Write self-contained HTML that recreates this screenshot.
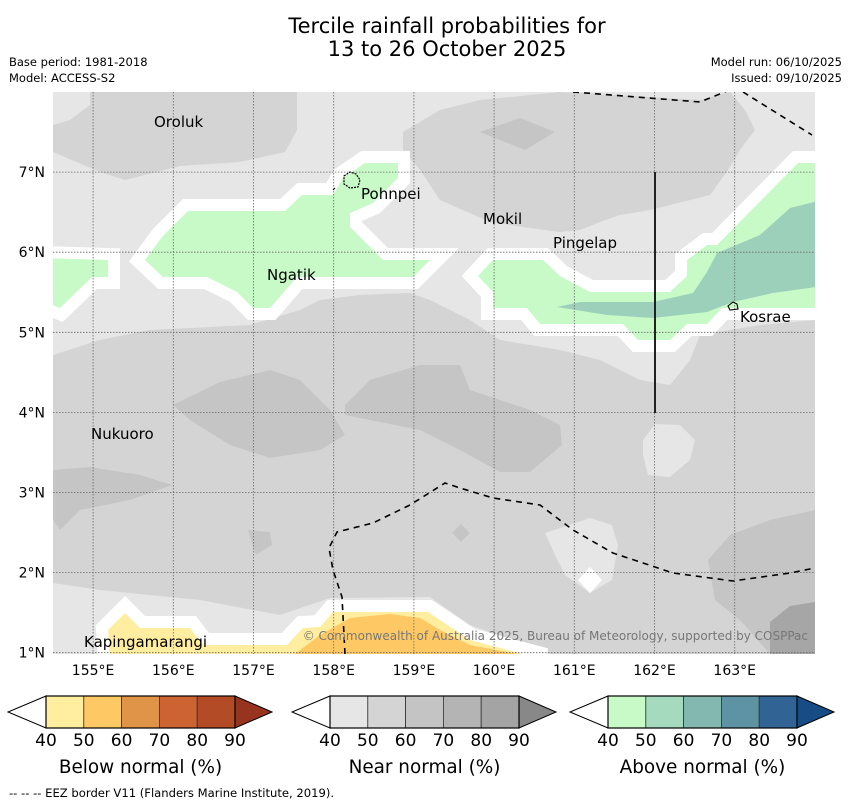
<!DOCTYPE html>
<html><head><meta charset="utf-8"><style>
body{margin:0;background:#fff;width:850px;height:804px;overflow:hidden;font-family:"DejaVu Sans","Liberation Sans",sans-serif}
svg{display:block}
text{font-family:"DejaVu Sans","Liberation Sans",sans-serif}
</style></head><body>
<svg id="fig" width="850" height="804" viewBox="0 0 850 804">
<text x="447" y="33" font-size="21" text-anchor="middle">Tercile rainfall probabilities for</text>
<text x="447" y="56" font-size="21" text-anchor="middle">13 to 26 October 2025</text>
<text x="9" y="66" font-size="11.5">Base period: 1981-2018</text>
<text x="9" y="82" font-size="11.5">Model: ACCESS-S2</text>
<text x="842" y="66" font-size="11.5" text-anchor="end">Model run: 06/10/2025</text>
<text x="842" y="82" font-size="11.5" text-anchor="end">Issued: 09/10/2025</text>
<defs><clipPath id="mc"><rect x="53" y="92" width="762" height="562"/></clipPath></defs>
<g clip-path="url(#mc)">
<rect x="53" y="92" width="762" height="562" fill="#e6e6e6"/>
<g fill="#d4d4d4">
<polygon points="53,125 70,120 90,105 90,92 297,92 297,130 285,152 240,162 180,166 125,180 100,172 53,152"/>
<polygon points="403,132 440,110 480,100 560,92 700,100 730,92 745,110 755,130 740,150 728,170 710,195 670,205 650,210 620,215 600,222 580,230 560,232 530,228 490,222 440,200 420,170 403,150"/>
<polygon points="53,355 100,340 150,330 250,325 300,310 320,300 360,295 410,293 430,300 470,320 500,340 560,350 600,360 640,380 670,385 690,360 700,335 760,325 815,320 815,654 550,654 470,625 430,597 330,598 280,615 200,600 100,590 53,583"/>
</g>
<g fill="#e6e6e6">
<polygon points="643,440 655,424 680,425 695,440 690,460 670,477 648,475 643,455"/>
<polygon points="545,533 590,518 612,525 618,545 612,580 590,593 565,575 555,555"/>
<polygon points="772,560 798,557 805,570 800,582 775,580"/>
</g>
<g fill="#c5c5c5">
<polygon points="480,132 520,118 555,132 525,150"/>
<polygon points="173,405 220,382 270,370 300,380 330,410 345,435 320,450 270,458 230,445 190,420"/>
<polygon points="345,405 370,380 420,365 460,365 470,390 500,400 530,410 560,425 562,445 530,472 500,472 460,450 420,430 370,420 345,415"/>
<polygon points="53,470 90,467 140,475 172,485 130,500 80,510 60,530 53,520"/>
<polygon points="248,530 270,532 272,545 256,555"/>
<polygon points="452,533 461,524 470,533 461,542"/>
<polygon points="708,560 730,535 770,520 815,510 815,654 770,654 740,620 715,600"/>
</g>
<polygon points="770,622 790,606 815,602 815,654 770,654" fill="#a6a6a6"/>
<polygon points="590,567 602,580 590,593 578,580" fill="#fff"/>
<g stroke="#fff" stroke-width="24" stroke-linejoin="miter" fill="#fff">
<polygon points="145,260 162,237 188,211 285,211 302,195 333,195 343,178 365,163 398,163 398,178 373,203 350,213 350,227 383,260 430,260 413,277 297,277 270,308 253,308 237,292 207,277 163,277"/>
<polygon points="40,258 108,260 108,277 92,277 60,308 40,300"/>
<polygon points="478,276 493,260 543,260 560,276 590,292 670,292 687,276 687,260 707,245 717,245 798,163 830,163 830,308 722,308 707,324 687,324 670,340 638,340 623,324 540,324 527,308 493,308 493,292"/>
<polygon points="108,630 125,613 140,628 190,628 203,645 287,645 303,628 320,627 333,612 428,612 470,640 545,660 110,660"/>
</g>
<g fill="#c8fac8">
<polygon points="145,260 162,237 188,211 285,211 302,195 333,195 343,178 365,163 398,163 398,178 373,203 350,213 350,227 383,260 430,260 413,277 297,277 270,308 253,308 237,292 207,277 163,277"/>
<polygon points="40,258 108,260 108,277 92,277 60,308 40,300"/>
<polygon points="478,276 493,260 543,260 560,276 590,292 670,292 687,276 687,260 707,245 717,245 798,163 830,163 830,308 722,308 707,324 687,324 670,340 638,340 623,324 540,324 527,308 493,308 493,292"/>
</g>
<polygon points="557,307 580,302 653,302 693,293 707,272 717,253 760,235 790,208 830,198 830,285 773,293 733,302 707,312 653,318 607,315" fill="#9dd0bb"/>
<polygon points="108,630 125,613 140,628 190,628 203,645 287,645 303,628 320,627 333,612 428,612 470,640 545,660 110,660" fill="#ffeda0"/>
<polygon points="287,660 320,635 350,618 390,614 420,618 440,630 470,645 550,660" fill="#fec965"/>
<g id="grid" stroke="#666" stroke-width="0.8" stroke-dasharray="1.5,1.5"></g>
<g fill="none" stroke="#000" stroke-width="1.6" stroke-dasharray="6,5">
<polyline points="573,92 700,102 732,89"/>
<polyline points="743,92 812,135"/>
<polyline points="345,654 342,597 333,570 329,548 337,532 373,523 410,505 445,483 460,488 493,498 540,505 573,530 613,553 673,573 733,581 790,573 815,568"/>
</g>
<line x1="655" y1="172" x2="655" y2="413" stroke="#222" stroke-width="2"/>
<path d="M344,176 L350,172 L356,174 L360,180 L358,187 L350,188 L344,184 Z" fill="none" stroke="#000" stroke-width="1.2" stroke-dasharray="2,1"/>
<path d="M333,190 l2,-2" stroke="#000"/>
<path d="M728,306 L733,302 L737,304 L738,309 L730,310 Z" fill="none" stroke="#000" stroke-width="1.1"/>
<g font-size="15" fill="#000">
<text x="154" y="127">Oroluk</text>
<text x="361" y="199">Pohnpei</text>
<text x="483" y="224">Mokil</text>
<text x="553" y="248">Pingelap</text>
<text x="267" y="280">Ngatik</text>
<text x="740" y="322">Kosrae</text>
<text x="91" y="439">Nukuoro</text>
<text x="84" y="647">Kapingamarangi</text>
</g>
<text x="808" y="640" font-size="12" fill="#777" text-anchor="end">© Commonwealth of Australia 2025, Bureau of Meteorology, supported by COSPPac</text>
</g>
<g id="ticks" font-size="14"></g>
<g id="cbars"></g>
<text x="9" y="797" font-size="11.6">--  --  -- EEZ border V11 (Flanders Marine Institute, 2019).</text>
</svg>
<script>
const lonTicks=[155,156,157,158,159,160,161,162,163];
const latTicks=[7,6,5,4,3,2,1];
const cbLevels=[40,50,60,70,80,90];
const belowColors=["#ffeda0","#fec965","#e09448","#cd6333","#b34b26","#973420"];
const nearColors=["#e6e6e6","#d4d4d4","#c4c4c4","#b4b4b4","#a4a4a4","#888888"];
const aboveColors=["#c8fac8","#a5dabe","#83b8b0","#5d93a3","#316494","#154d84"];
const cbTitles=["Below normal (%)","Near normal (%)","Above normal (%)"];
const NS="http://www.w3.org/2000/svg";
const lx=l=>53+(l-154.5)*80.2, ly=l=>92+(8-l)*80.1;
function mk(t,a,p){const e=document.createElementNS(NS,t);for(const k in a)e.setAttribute(k,a[k]);p.appendChild(e);return e;}
const grid=document.getElementById('grid'),ticks=document.getElementById('ticks');
lonTicks.forEach(l=>{const g=mk('line',{x1:lx(l),x2:lx(l),y1:92,y2:654},grid);


const t=mk('text',{x:lx(l),y:675,'text-anchor':'middle'},ticks);t.textContent=l+'°E';

});
latTicks.forEach(l=>{const g=mk('line',{x1:53,x2:815,y1:ly(l),y2:ly(l)},grid);


const t=mk('text',{x:45,y:ly(l)+5,'text-anchor':'end'},ticks);t.textContent=l+'°N';

});
const cb=document.getElementById('cbars');
const starts=[46,330,608],w=37.8,y0=696,h=32;
[belowColors,nearColors,aboveColors].forEach((cols,i)=>{const x0=starts[i];const n=cbLevels.length-1;const x1=x0+n*w;
const g=mk('g',{},cb);


mk('polygon',{points:`${x0},${y0} ${x0-38},${y0+h/2} ${x0},${y0+h}`,fill:'#fff',stroke:'#000','stroke-width':1},g);
for(let k=0;k<n;k++){const r=mk('rect',{x:x0+k*w,y:y0,width:w,height:h,fill:cols[k],stroke:'#333','stroke-width':0.8},g);

}
mk('polygon',{points:`${x1},${y0} ${x1+37},${y0+h/2} ${x1},${y0+h}`,fill:cols[n],stroke:'#000','stroke-width':1},g);
mk('rect',{x:x0,y:y0,width:n*w,height:h,fill:'none',stroke:'#000','stroke-width':1.2},g);
cbLevels.forEach((v,k)=>{const t=mk('text',{x:x0+k*w,y:746,'font-size':17,'text-anchor':'middle'},g);t.textContent=v;

});
const tt=mk('text',{x:x0+n*w/2,y:773,'font-size':18.4,'text-anchor':'middle'},g);tt.textContent=cbTitles[i];


});
</script>
</body></html>
